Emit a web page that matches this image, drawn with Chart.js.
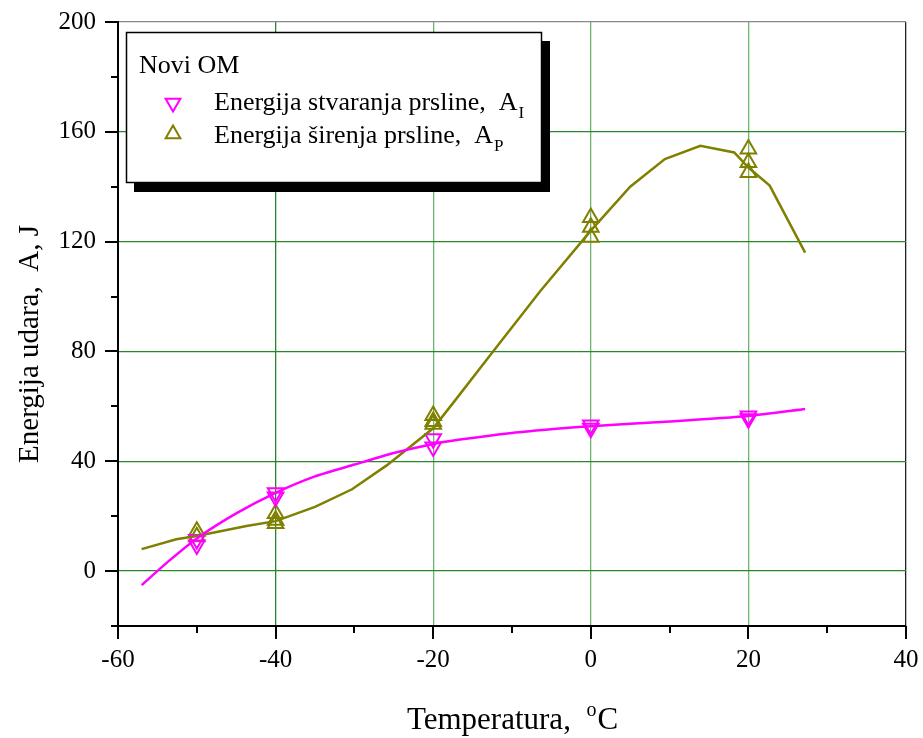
<!DOCTYPE html>
<html>
<head>
<meta charset="utf-8">
<script src="https://cdn.jsdelivr.net/npm/chart.js@4.4.1/dist/chart.umd.min.js"></script>
<style>
html,body{margin:0;padding:0;background:#fff;}
#c{display:block;}
</style>
</head>
<body>
<canvas id="c" width="923" height="738"></canvas>
<script>
// ---- data ----
const markerTemps_AI = [-50, -50, -40, -40, -20, -20, 0, 0, 20, 20];
const markerValues_AI = [9.5, 11.5, 27, 28.5, 45.2, 48.2, 52, 53.2, 55.5, 56.5];

const markerTemps_AP = [-50, -50, -40, -40, -40, -20, -20, -20, 0, 0, 0, 20, 20, 20];
const markerValues_AP = [12.5, 14.5, 17.3, 18.5, 21, 53.5, 54.5, 56.7, 121.6, 125.2, 128.8, 145.2, 148.8, 153.7];

const fitTemps_AI = [-57, -53.5, -50, -45, -40, -35, -30, -25, -20, -16.6, -10, -4, 0, 10, 20, 27.2];
const fitValues_AI = [-5.1, 3.8, 11.9, 21, 28.5, 34.5, 38.8, 43, 46.3, 47.9, 50.3, 51.9, 52.8, 54.5, 56.5, 59];

const fitTemps_AP = [-57, -52.6, -50, -43.7, -40, -35, -30.3, -25.9, -20, -17, -12.8, -6.4, 0, 5, 9.4, 13.9, 18.2, 20, 22.7, 27.2];
const fitValues_AP = [8, 11.6, 12.8, 16.4, 18.2, 23.4, 29.8, 38.5, 52, 63, 78.5, 102, 124, 140, 150.1, 154.9, 152.5, 147, 140.4, 116];

const xTickLabels = [-60, -40, -20, 0, 20, 40];
const yTickLabels = [0, 40, 80, 120, 160, 200];

const legendTitle = 'Novi OM';
const seriesNames = ['Energija stvaranja prsline,  A', 'Energija širenja prsline,  A'];
const seriesSubs = ['I', 'P'];
const xTitle = 'Temperatura,  ';
const xTitleSup = 'o';
const xTitleEnd = 'C';
const yTitle = 'Energija udara,  A, J';

const MAGENTA = '#ff00ff';
const OLIVE = '#808000';
const FONT = '"Liberation Serif", "Times New Roman", serif';

function pts(xs, ys) { return xs.map((x, i) => ({x: x, y: ys[i]})); }

function triangle(ctx, x, y, rad, down) {
  const hw = rad * Math.sqrt(3) / 2;
  ctx.beginPath();
  if (down) {
    ctx.moveTo(x - hw, y - rad / 2);
    ctx.lineTo(x + hw, y - rad / 2);
    ctx.lineTo(x, y + rad);
  } else {
    ctx.moveTo(x - hw, y + rad / 2);
    ctx.lineTo(x + hw, y + rad / 2);
    ctx.lineTo(x, y - rad);
  }
  ctx.closePath();
  ctx.stroke();
}

const decorPlugin = {
  id: 'decor',
  afterDraw(chart) {
    const ctx = chart.ctx;
    const xs = chart.scales.x, ys = chart.scales.y;
    const area = chart.chartArea;
    ctx.save();
    // tick marks
    ctx.strokeStyle = '#000';
    ctx.lineWidth = 2;
    for (let v = -60; v <= 40; v += 10) {
      const px = Math.round(xs.getPixelForValue(v));
      const major = xTickLabels.includes(v);
      ctx.beginPath();
      ctx.moveTo(px, area.bottom);
      ctx.lineTo(px, area.bottom + (major ? 13 : 7));
      ctx.stroke();
    }
    for (let v = -20; v <= 200; v += 20) {
      const py = Math.round(ys.getPixelForValue(v));
      const major = yTickLabels.includes(v);
      ctx.beginPath();
      ctx.moveTo(area.left, py);
      ctx.lineTo(area.left - (major ? 13 : 7), py);
      ctx.stroke();
    }
    // x title with superscript
    ctx.fillStyle = '#000';
    ctx.textBaseline = 'alphabetic';
    ctx.font = '31px ' + FONT;
    const w1 = ctx.measureText(xTitle).width;
    ctx.font = '20px ' + FONT;
    const w2 = ctx.measureText(xTitleSup).width;
    ctx.font = '31px ' + FONT;
    const w3 = ctx.measureText(xTitleEnd).width;
    const total = w1 + w2 + w3;
    let sx = 512 - total / 2;
    const by = 729;
    ctx.textAlign = 'left';
    ctx.fillText(xTitle, sx, by);
    ctx.font = '20px ' + FONT;
    ctx.fillText(xTitleSup, sx + w1, by - 13);
    ctx.font = '31px ' + FONT;
    ctx.fillText(xTitleEnd, sx + w1 + w2 + 1, by);
    // y title
    ctx.save();
    ctx.translate(38, 344);
    ctx.rotate(-Math.PI / 2);
    ctx.textAlign = 'center';
    ctx.font = '29px ' + FONT;
    ctx.fillText(yTitle, 0, 0);
    ctx.restore();

    // legend box with shadow
    const L = 126, T = 32, R = 541, B = 182;
    ctx.fillStyle = '#000';
    ctx.fillRect(L + 8, T + 9, R - L + 1, B - T + 1);
    ctx.fillStyle = '#fff';
    ctx.fillRect(L, T, R - L, B - T);
    ctx.strokeStyle = '#000';
    ctx.lineWidth = 1.5;
    ctx.strokeRect(L + 0.5, T + 0.5, R - L, B - T);
    ctx.fillStyle = '#000';
    ctx.textAlign = 'left';
    ctx.font = '26px ' + FONT;
    ctx.fillText(legendTitle, 139, 73);
    const rows = [{y: 103, base: 110, color: MAGENTA, down: true},
                  {y: 134, base: 143, color: OLIVE, down: false}];
    rows.forEach((r, i) => {
      ctx.strokeStyle = r.color;
      ctx.lineWidth = 2;
      triangle(ctx, 173, r.y, 8.5, r.down);
      ctx.fillStyle = '#000';
      ctx.font = '26px ' + FONT;
      ctx.fillText(seriesNames[i], 214, r.base);
      const tw = ctx.measureText(seriesNames[i]).width;
      ctx.font = '17px ' + FONT;
      ctx.fillText(seriesSubs[i], 214 + tw + 1, r.base + 8);
    });
    ctx.restore();
  }
};

const gridColorX = (c) => {
  const v = c.tick && c.tick.value;
  if (v === 40) return '#222';
  if (v === -40) return '#2a862a';
  if (v === -20 || v === 0 || v === 20) return '#6db66d';
  return 'rgba(0,0,0,0)';
};
const gridColorY = (c) => {
  const v = c.tick && c.tick.value;
  if (v === 200) return '#888';
  if (v === 0 || v === 40 || v === 80 || v === 120 || v === 160) return '#2a862a';
  return 'rgba(0,0,0,0)';
};

new Chart(document.getElementById('c'), {
  type: 'scatter',
  data: {
    datasets: [
      {
        label: 'fit AI', type: 'line', data: pts(fitTemps_AI, fitValues_AI),
        borderColor: MAGENTA, borderWidth: 2.5, pointRadius: 0, tension: 0.2, fill: false
      },
      {
        label: 'fit AP', type: 'line', data: pts(fitTemps_AP, fitValues_AP),
        borderColor: OLIVE, borderWidth: 2.5, pointRadius: 0, tension: 0, fill: false
      },
      {
        label: 'AI', data: pts(markerTemps_AI, markerValues_AI), showLine: false,
        pointStyle: 'triangle', rotation: 180, pointRadius: 9, borderWidth: 2,
        borderColor: MAGENTA, backgroundColor: 'rgba(0,0,0,0)'
      },
      {
        label: 'AP', data: pts(markerTemps_AP, markerValues_AP), showLine: false,
        pointStyle: 'triangle', pointRadius: 9, borderWidth: 2,
        borderColor: OLIVE, backgroundColor: 'rgba(0,0,0,0)'
      }
    ]
  },
  options: {
    responsive: false,
    animation: false,
    events: [],
    layout: {padding: {top: 22, right: 17, left: 0, bottom: 0}},
    plugins: {legend: {display: false}, tooltip: {enabled: false}, title: {display: false}},
    scales: {
      x: {
        type: 'linear', min: -60, max: 40,
        afterFit: (s) => { s.height = 112; s.paddingLeft = 0; s.paddingRight = 0; },
        afterBuildTicks: (s) => { s.ticks = []; for (let v = -60; v <= 40; v += 10) s.ticks.push({value: v}); },
        ticks: {
          autoSkip: false, maxRotation: 0, padding: 19,
          color: '#000', font: {family: FONT, size: 25},
          callback: (v) => xTickLabels.includes(v) ? String(v) : ''
        },
        grid: {color: gridColorX, lineWidth: 1.3, drawTicks: false},
        border: {display: true, color: '#000', width: 2}
      },
      y: {
        type: 'linear', min: -20, max: 200,
        afterFit: (s) => { s.width = 118; s.paddingTop = 0; s.paddingBottom = 0; },
        afterBuildTicks: (s) => { s.ticks = []; for (let v = -20; v <= 200; v += 20) s.ticks.push({value: v}); },
        ticks: {
          autoSkip: false, padding: 22,
          color: '#000', font: {family: FONT, size: 25},
          callback: (v) => yTickLabels.includes(v) ? String(v) : ''
        },
        grid: {color: gridColorY, lineWidth: 1.3, drawTicks: false},
        border: {display: true, color: '#000', width: 2}
      }
    }
  },
  plugins: [decorPlugin]
});
</script>
</body>
</html>
